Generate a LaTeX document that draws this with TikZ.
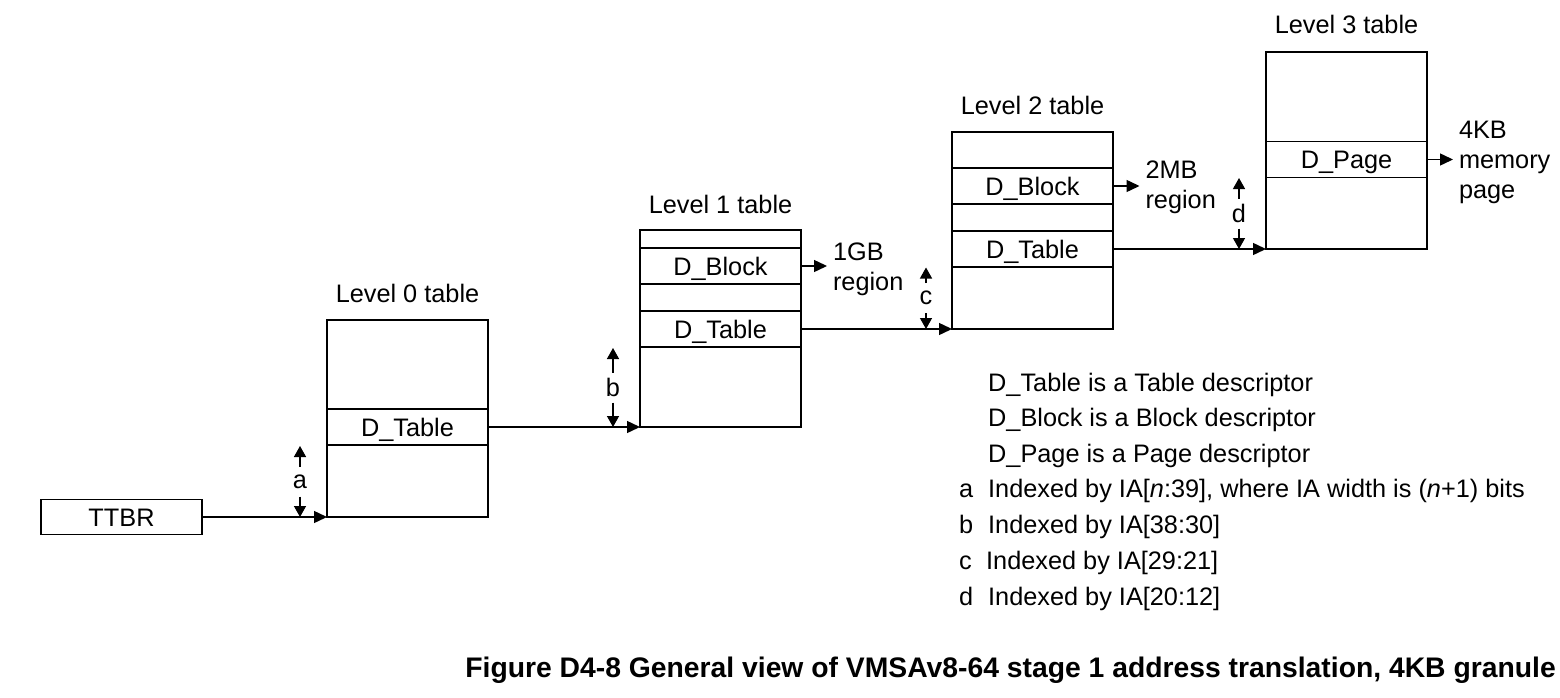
\documentclass[tikz,border=0pt]{standalone}
\usepackage{fontspec}
\setmainfont{Liberation Sans}
\usetikzlibrary{arrows.meta}
\begin{document}
\begin{tikzpicture}[x=1pt,y=-1pt,
  every node/.style={font=\fontsize{25.3}{30}\selectfont},
  tbl/.style={draw, line width=1.4pt, minimum width=161pt, minimum height=197pt, inner sep=0pt, outer sep=0pt},
  rowbox/.style={draw, line width=1.4pt, minimum width=161pt, minimum height=36pt, inner sep=0pt, outer sep=0pt, text height=18.5pt, text depth=0pt},
  lbl/.style={inner sep=0pt, outer sep=0pt},
  sidelbl/.style={align=left, anchor=west, inner xsep=6pt, inner ysep=0pt, outer sep=0pt},
  conn/.style={line width=1.4pt, -{Triangle[length=13pt,width=12pt]}},
  idx/.style={line width=1.4pt, -{Triangle[length=11pt,width=12pt]}},
  legend/.style={anchor=base west, inner sep=0pt}
]
\fill[white] (0,0) rectangle (1560,698);
\useasboundingbox (0,0) rectangle (1560,698);

% TTBR
\node[rowbox, minimum height=35pt] (ttbr) at (121.5,517) {TTBR};

% Level 0
\node[tbl] (l0) at (407.5,418.5) {};
\node[rowbox] (l0t) at (407.5,427) {D\_Table};
\node[lbl] (l0lab) at (407.5,293) {Level 0 table};

% Level 1
\node[tbl] (l1) at (720.5,328.5) {};
\node[rowbox] (l1b) at (720.5,266) {D\_Block};
\node[rowbox] (l1t) at (720.5,329) {D\_Table};
\node[lbl] (l1lab) at (720.5,204) {Level 1 table};

% Level 2
\node[tbl] (l2) at (1032.5,230.5) {};
\node[rowbox] (l2b) at (1032.5,186) {D\_Block};
\node[rowbox] (l2t) at (1032.5,249) {D\_Table};
\node[lbl] (l2lab) at (1032.5,105.5) {Level 2 table};

% Level 3
\node[tbl] (l3) at (1346.5,150.5) {};
\node[rowbox] (l3p) at (1346.5,159.5) {D\_Page};
\node[lbl] (l3lab) at (1346.5,24.5) {Level 3 table};

% region labels
\node[sidelbl] (gb) at (827,269) {1GB\\region};
\node[sidelbl] (mb) at (1139.5,187.5) {2MB\\region};
\node[sidelbl] (kb) at (1453,162.6) {4KB\\memory\\page};

% main connectors
\draw[conn] (ttbr.east) -- (l0.south west);
\draw[conn] (l0t.east) -- (l1.south west);
\draw[conn] (l1t.east) -- (l2.south west);
\draw[conn] (l2t.east) -- (l3.south west);
\draw[conn] (l1b.east) -- (l1b.east -| gb.west);
\draw[conn] (l2b.east) -- (l2b.east -| mb.west);
\draw[conn] (l3p.east) -- (l3p.east -| kb.west);

% index arrows
\coordinate (atop) at (300,446);
\coordinate (abot) at (300,517);
\node[lbl] (alab) at (300,481.5) {a};
\draw[idx] ([yshift=15pt]alab.center) -- (atop);
\draw[idx] ([yshift=-15pt]alab.center) -- (abot);

\coordinate (btop) at (613,348);
\coordinate (bbot) at (613,427);
\node[lbl] (blab) at (613,387.5) {b};
\draw[idx] ([yshift=15pt]blab.center) -- (btop);
\draw[idx] ([yshift=-15pt]blab.center) -- (bbot);

\coordinate (ctop) at (926,267.5);
\coordinate (cbot) at (926,329);
\node[lbl] (clab) at (926,298) {c};
\draw[idx] ([yshift=15pt]clab.center) -- (ctop);
\draw[idx] ([yshift=-15pt]clab.center) -- (cbot);

\coordinate (dtop) at (1239,178);
\coordinate (dbot) at (1239,249);
\node[lbl] (dlab) at (1239,213.5) {d};
\draw[idx] ([yshift=15pt]dlab.center) -- (dtop);
\draw[idx] ([yshift=-15pt]dlab.center) -- (dbot);

% legend
\node[legend] (g1) at (988,391) {D\_Table is a Table descriptor};
\node[legend] (g2) at (988,426.5) {D\_Block is a Block descriptor};
\node[legend] (g3) at (988,462) {D\_Page is a Page descriptor};
\node[legend] (g4l) at (959,497.5) {a};
\node[legend] (g4) at (988,497.5) {Indexed by IA[\textit{n}:39], where IA width is (\textit{n}+1) bits};
\node[legend] (g5l) at (959,533) {b};
\node[legend] (g5) at (988,533) {Indexed by IA[38:30]};
\node[legend] (g6l) at (959,569) {c};
\node[legend] (g6) at (986,569) {Indexed by IA[29:21]};
\node[legend] (g7l) at (959,605) {d};
\node[legend] (g7) at (988,605) {Indexed by IA[20:12]};

% caption
\node[anchor=base east, inner sep=0pt, font=\bfseries\fontsize{28.3}{30}\selectfont] (cap) at (1556,677) {Figure D4-8 General view of VMSAv8-64 stage 1 address translation, 4KB granule};
\end{tikzpicture}
\end{document}
